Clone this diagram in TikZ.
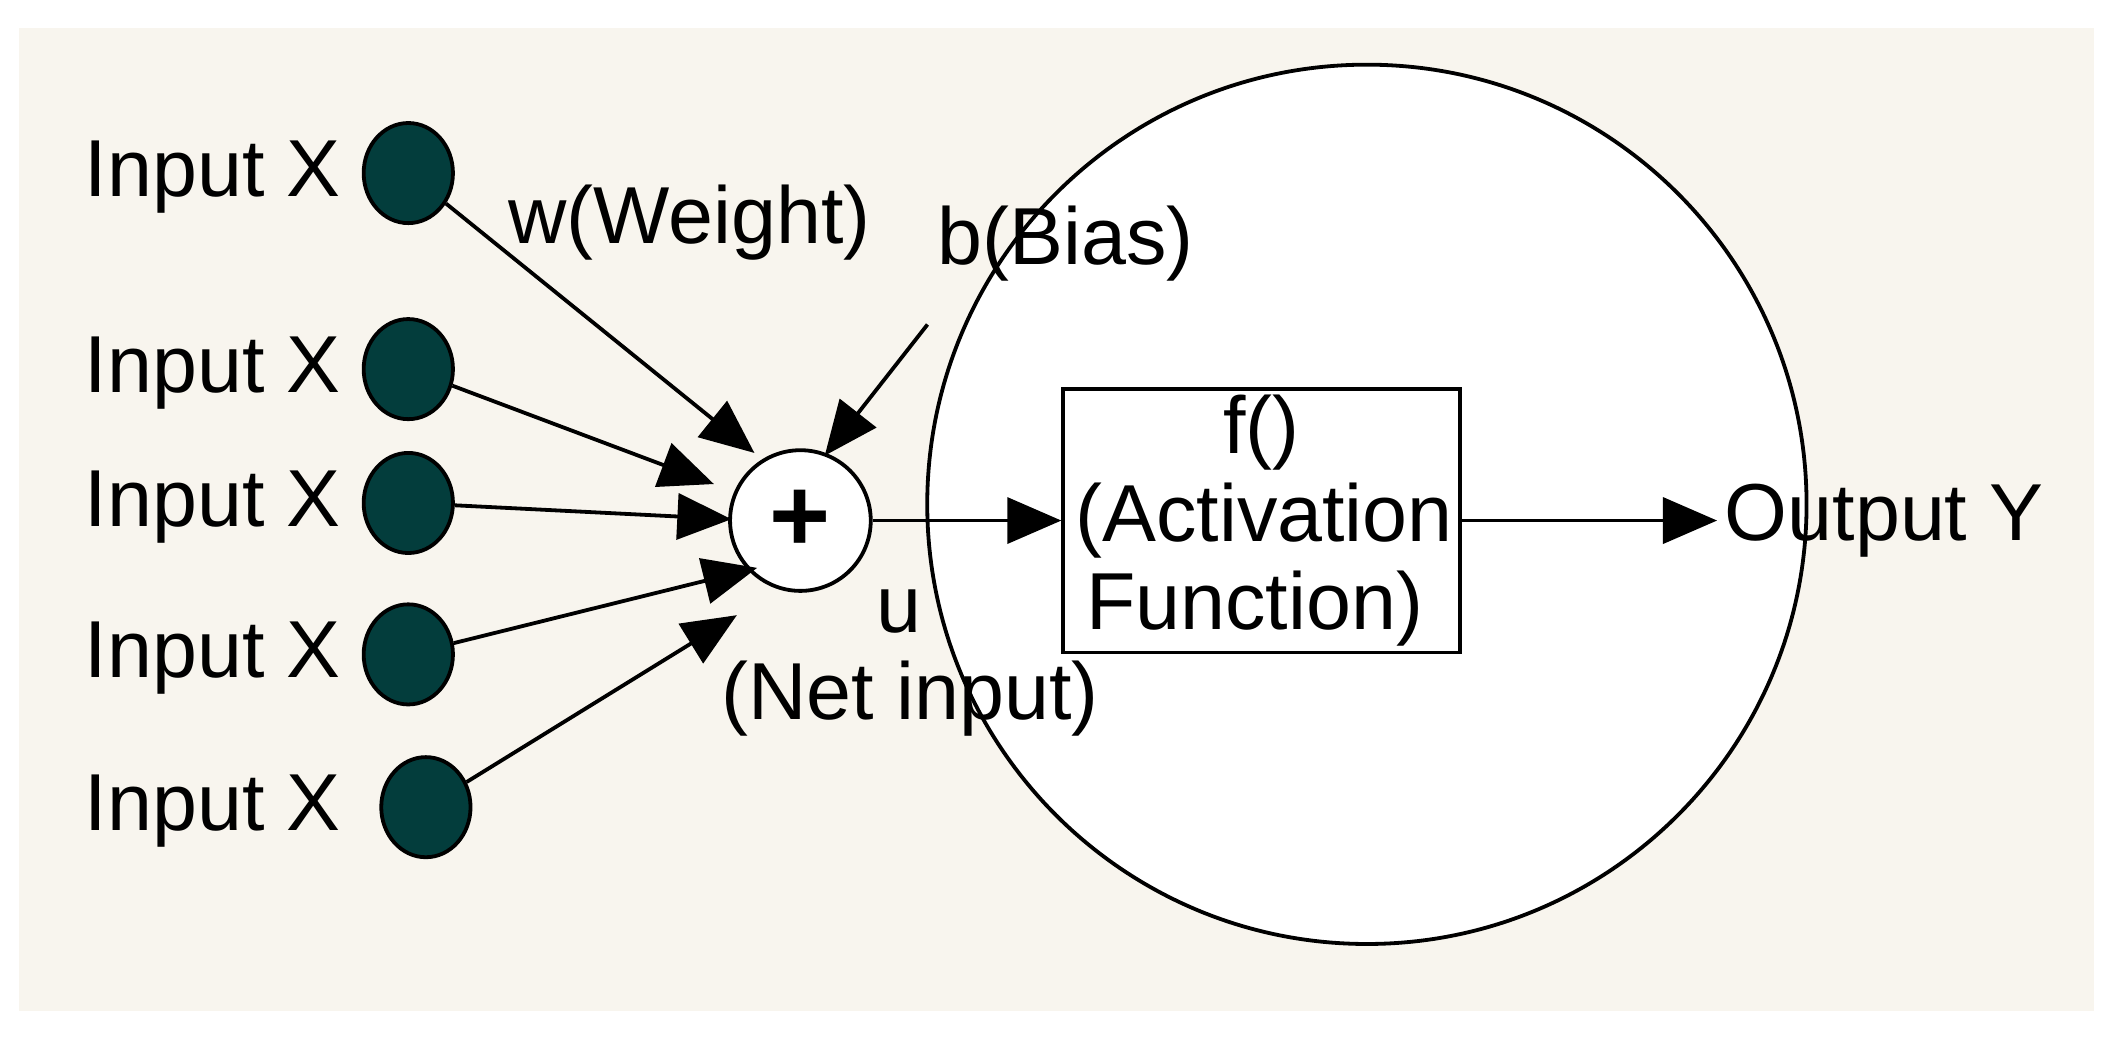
\documentclass[tikz,border=0pt]{standalone}
\usepackage{fontspec}
\setmainfont{Liberation Sans}
\usetikzlibrary{arrows.meta,shapes.geometric}
\definecolor{bgc}{HTML}{F8F5EE}
\definecolor{dotc}{HTML}{033D3C}
\begin{document}
\begin{tikzpicture}[x=0.01cm,y=-0.01cm,
  lbl/.style={font=\fontsize{17}{20}\selectfont, inner sep=0pt},
  dot/.style={draw, line width=0.8pt, fill=dotc, ellipse, minimum width=0.66cm, minimum height=0.74cm, inner sep=0pt},
  con/.style={line width=0.8pt, -{Triangle[length=0.4cm,width=0.34cm]}}]
\useasboundingbox (0,0) rectangle (1568,769);
\fill[bgc] (14,21) rectangle (1549,748);
\node[draw, line width=0.8pt, fill=white, circle, minimum size=6.5cm] (big) at (1011,373) {};
\node[draw, line width=0.8pt, fill=white, circle, minimum size=1.04cm, inner sep=0pt, font=\fontsize{22}{22}\selectfont\bfseries] (sum) at (592,385) {+};
\node[draw, line width=0.8pt, minimum width=2.93cm, minimum height=1.95cm, fill=white] (box) at (933,385) {};
\node[lbl] (f1) at (933,320) {f()};
\node[lbl] (f2) at (935,385) {(Activation};
\node[lbl] (f3) at (928,450) {Function)};
\foreach \i/\y/\x in {1/128/302,2/273/302,3/372/302,4/484/302,5/597/315}{
  \node[dot] (d\i) at (\x,\y) {};
  \node[lbl, anchor=west] (l\i) at (62,\y+3) {Input X};
}
\coordinate (t1) at (558,335);
\coordinate (t2) at (528,358);
\coordinate (t3) at (541,384);
\coordinate (t4) at (560,420);
\coordinate (t5) at (545,455);
\foreach \i in {1,...,5}{\draw[con] (d\i) -- (t\i);}
\coordinate (bs) at (686,240);
\coordinate (bt) at (610,337);
\draw[con] (bs) -- (bt);
\draw[con] (sum) -- (box);
\coordinate (out) at (1270,385);
\draw[con] (box) -- (out);
\node[lbl, anchor=west] (oy) at (1275,385) {Output Y};
\node[lbl] (w) at (510,165) {w(Weight)};
\node[lbl] (b) at (788,180) {b(Bias)};
\node[lbl] (u) at (665,452) {u};
\node[lbl] (ni) at (673,517) {(Net input)};
\end{tikzpicture}
\end{document}
